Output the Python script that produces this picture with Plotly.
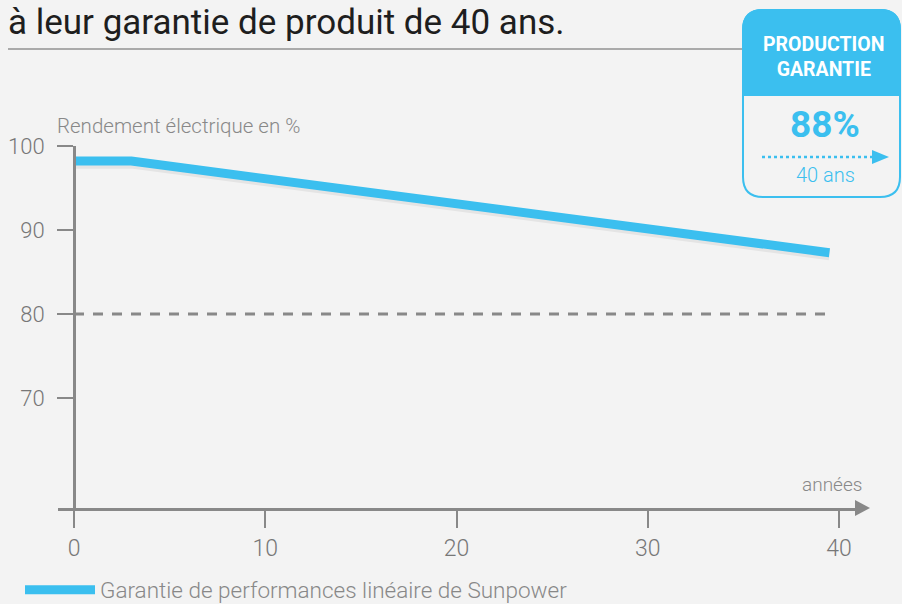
import plotly.graph_objects as go

# ---- data ----
years = [0, 3, 39.5]
rendement = [98.2, 98.2, 87.3]
seuil = 80
x_ticks = [0, 10, 20, 30, 40]
y_ticks = [70, 80, 90, 100]
serie_nom = "Garantie de performances linéaire de Sunpower"
titre = "à leur garantie de produit de 40 ans."
box_header = "PRODUCTION<br>GARANTIE"
box_value = "88%"
box_years = "40 ans"

W, H = 902, 604
L, R, T, B = 58, 44, 146, 96
BLUE = "#3bbfef"
GREY = "#888888"
BG = "#f3f3f3"
FONT = "Roboto"

pw = W - L - R
ph = H - T - B
def px(x):  # pixel -> paper x
    return (x - L) / pw
def py(y):  # pixel -> paper y
    return (H - B - y) / ph

x0_year = -(74 - L) / 19.125
xrange_ = [x0_year, x0_year + pw / 19.125]
yrange_ = [100 - ph / 8.4, 100]

fig = go.Figure()
# dashed threshold line
fig.add_trace(go.Scatter(x=[years[0], years[-1]], y=[seuil, seuil], mode="lines",
                         line=dict(color=GREY, width=3, dash="10px,9px"),
                         hoverinfo="skip", showlegend=False))
# subtle shadow
fig.add_trace(go.Scatter(x=years, y=[v - 0.3 for v in rendement], mode="lines",
                         line=dict(color="rgba(0,0,0,0.06)", width=10),
                         hoverinfo="skip", showlegend=False, cliponaxis=False))
fig.add_trace(go.Scatter(x=years, y=rendement, mode="lines", name=serie_nom,
                         line=dict(color=BLUE, width=9), cliponaxis=False))

shapes = []
# x-axis arrowhead
shapes.append(dict(type="path", xref="paper", yref="paper",
                   path=f"M{px(855)},{py(500)} L{px(870)},{py(508)} L{px(855)},{py(516)} Z",
                   fillcolor=GREY, line=dict(width=0)))
# horizontal rule under title
shapes.append(dict(type="line", xref="paper", yref="paper", x0=px(8), x1=px(745), y0=py(49), y1=py(49),
                   line=dict(color="#aaaaaa", width=2)))
# box
bl, br, bt, bb, bh, r = 743, 900, 10, 197, 95, 20
outline = (f"M{px(bl)},{py(bt+r)} Q{px(bl)},{py(bt)} {px(bl+r)},{py(bt)} "
           f"L{px(br-r)},{py(bt)} Q{px(br)},{py(bt)} {px(br)},{py(bt+r)} "
           f"L{px(br)},{py(bb-r)} Q{px(br)},{py(bb)} {px(br-r)},{py(bb)} "
           f"L{px(bl+r)},{py(bb)} Q{px(bl)},{py(bb)} {px(bl)},{py(bb-r)} Z")
shapes.append(dict(type="path", xref="paper", yref="paper", path=outline,
                   fillcolor=BG, line=dict(color=BLUE, width=2)))
header = (f"M{px(bl)},{py(bt+r)} Q{px(bl)},{py(bt)} {px(bl+r)},{py(bt)} "
          f"L{px(br-r)},{py(bt)} Q{px(br)},{py(bt)} {px(br)},{py(bt+r)} "
          f"L{px(br)},{py(bh)} L{px(bl)},{py(bh)} Z")
shapes.append(dict(type="path", xref="paper", yref="paper", path=header,
                   fillcolor=BLUE, line=dict(color=BLUE, width=2)))
# dotted arrow in box
shapes.append(dict(type="line", xref="paper", yref="paper", x0=px(762), x1=px(874), y0=py(157), y1=py(157),
                   line=dict(color=BLUE, width=2.5, dash="dot")))
shapes.append(dict(type="path", xref="paper", yref="paper",
                   path=f"M{px(872)},{py(150)} L{px(889)},{py(157)} L{px(872)},{py(164)} Z",
                   fillcolor=BLUE, line=dict(width=0)))

annotations = [
    dict(text=titre, xref="paper", yref="paper", x=px(6), y=py(22), xanchor="left", yanchor="middle",
         showarrow=False, font=dict(family=FONT, size=35, color="#1e1e1e")),
    dict(text="Rendement électrique en %", xref="paper", yref="paper", x=px(55), y=py(126),
         xanchor="left", yanchor="middle", showarrow=False,
         font=dict(family=FONT, size=20.5, color=GREY, weight=300)),
    dict(text="années", xref="paper", yref="paper", x=px(864), y=py(484), xanchor="right", yanchor="middle",
         showarrow=False, font=dict(family=FONT, size=19, color=GREY, weight=300)),
    dict(text=f"<b>{box_header}</b>", xref="paper", yref="paper", x=px(824), y=py(57), xanchor="center",
         yanchor="middle", showarrow=False, font=dict(family=FONT, size=19.5, color="white")),
    dict(text=f"<b>{box_value}</b>", xref="paper", yref="paper", x=px(825), y=py(124), xanchor="center",
         yanchor="middle", showarrow=False, font=dict(family=FONT, size=37, color=BLUE)),
    dict(text=box_years, xref="paper", yref="paper", x=px(825), y=py(175), xanchor="center",
         yanchor="middle", showarrow=False, font=dict(family=FONT, size=20, color=BLUE, weight=300)),
]

fig.update_layout(
    width=W, height=H, margin=dict(l=L, r=R, t=T, b=B, pad=0, autoexpand=False),
    paper_bgcolor=BG, plot_bgcolor=BG,
    font=dict(family=FONT, color="#777777"),
    shapes=shapes, annotations=annotations,
    showlegend=True,
    legend=dict(xref="container", yref="container", x=20 / W, y=1 - 590 / H,
                xanchor="left", yanchor="middle", bgcolor="rgba(0,0,0,0)",
                font=dict(family=FONT, size=22.5, color=GREY, weight=300), itemwidth=70),
    xaxis=dict(range=xrange_, tickvals=x_ticks, showgrid=False, zeroline=False,
               showline=True, linecolor=GREY, linewidth=3,
               ticks="outside", ticklen=17, tickwidth=2, tickcolor=GREY,
               tickfont=dict(family=FONT, size=23, color="#777777", weight=300), ticklabelstandoff=0),
    yaxis=dict(range=yrange_, tickvals=y_ticks, showgrid=False, zeroline=False,
               anchor="free", position=px(74),
               showline=True, linecolor=GREY, linewidth=3,
               ticks="outside", ticklen=16, tickwidth=2, tickcolor=GREY,
               tickfont=dict(family=FONT, size=22, color="#777777", weight=300), ticklabelstandoff=8),
)

fig.write_html("out.html", config={"displayModeBar": False},
               post_script="document.body.style.margin='0';document.body.style.overflow='hidden';")
